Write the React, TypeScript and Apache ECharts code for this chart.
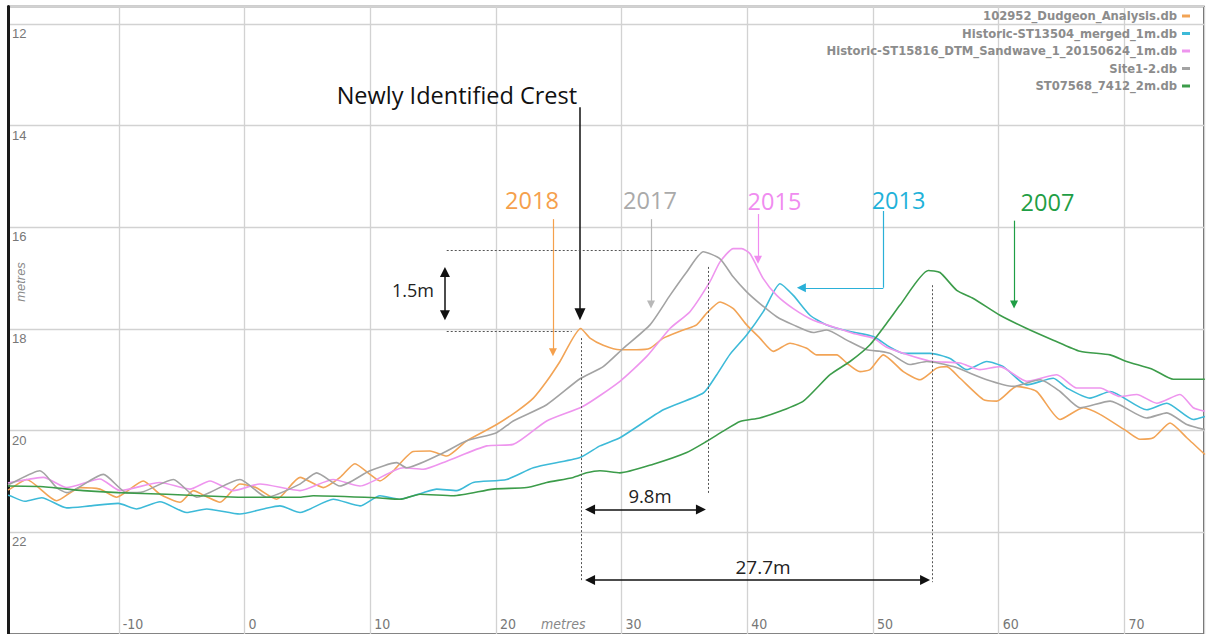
import React, { useEffect, useRef } from "react";
import * as echarts from "echarts";

const legendNames = [
  "102952_Dudgeon_Analysis.db",
  "Historic-ST13504_merged_1m.db",
  "Historic-ST15816_DTM_Sandwave_1_20150624_1m.db",
  "Site1-2.db",
  "ST07568_7412_2m.db",
];
const seriesColors = ["#f2a456", "#3dbad8", "#ee95ee", "#a3a3a3", "#3c9c4a"];

// [distance (m), depth (m)]
const survey2018: [number, number][] = [
  [-18.81, 21.17], [-18.66, 21.15], [-17.33, 20.96], [-14.94, 21.38], [-13.09, 21.12], [-11.5, 21.15],
  [-10.17, 21.31], [-8.05, 20.99], [-6.72, 21.25], [-5.13, 21.41], [-4.07, 21.18], [-3.01, 21.3],
  [-1.95, 21.41], [-0.36, 21.05], [0.9, 21.12], [2.56, 21.35], [4.42, 20.92], [6.27, 21.12],
  [7.6, 20.92], [8.79, 20.65], [9.98, 20.86], [10.78, 20.99], [11.84, 20.79], [13.43, 20.41],
  [14.76, 20.4], [16.09, 20.5], [17.68, 20.2], [20.06, 19.88], [21.66, 19.62], [22.98, 19.36],
  [24.04, 19.03], [25.1, 18.64], [26.75, 17.99], [27.49, 18.18], [28.54, 18.32], [29.87, 18.41],
  [31.2, 18.41], [32.26, 18.38], [33.32, 18.18], [34.91, 18.02], [35.97, 17.92], [36.77, 17.69],
  [37.83, 17.47], [38.89, 17.6], [39.95, 17.92], [41.0, 18.18], [42.07, 18.44], [43.4, 18.28],
  [44.73, 18.38], [45.52, 18.51], [47.11, 18.51], [47.91, 18.67], [48.97, 18.84], [49.76, 18.8],
  [50.82, 18.51], [52.41, 18.84], [53.74, 19.0], [55.07, 18.77], [55.86, 18.74], [56.92, 18.97],
  [58.78, 19.39], [59.84, 19.42], [61.43, 19.13], [63.02, 19.23], [64.88, 19.78], [66.73, 19.55],
  [68.06, 19.68], [70.18, 20.01], [71.24, 20.17], [72.3, 20.14], [73.63, 19.85], [74.96, 20.14],
  [76.4, 20.47],
];

const survey2013: [number, number][] = [
  [-18.81, 21.27], [-18.66, 21.28], [-17.46, 21.39], [-16.13, 21.32], [-14.14, 21.52], [-12.29, 21.48],
  [-10.04, 21.43], [-8.58, 21.54], [-6.72, 21.4], [-4.6, 21.61], [-3.0, 21.54], [-0.36, 21.64],
  [1.5, 21.54], [2.82, 21.48], [4.42, 21.61], [7.06, 21.35], [9.19, 21.48], [10.78, 21.28],
  [12.37, 21.35], [14.22, 21.22], [15.29, 21.15], [16.88, 21.18], [18.2, 21.02], [20.86, 20.96],
  [22.98, 20.73], [26.69, 20.53], [28.28, 20.3], [29.87, 20.14], [33.32, 19.59], [36.5, 19.26],
  [37.57, 18.9], [38.62, 18.5], [39.95, 18.12], [41.27, 17.66], [42.6, 17.11], [43.66, 17.34],
  [44.99, 17.73], [46.32, 17.92], [48.17, 18.05], [50.02, 18.15], [51.35, 18.36], [52.41, 18.48],
  [54.54, 18.48], [56.13, 18.58], [57.45, 18.8], [59.05, 18.64], [60.37, 18.74], [62.23, 19.1],
  [64.34, 18.97], [65.41, 19.16], [67.26, 19.36], [68.86, 19.23], [71.77, 19.59], [73.37, 19.46],
  [75.48, 19.78], [76.4, 19.72],
];

const survey2015: [number, number][] = [
  [-18.81, 21.03], [-18.66, 21.02], [-16.0, 20.92], [-14.14, 21.12], [-11.5, 20.95], [-9.9, 21.18],
  [-6.72, 21.02], [-4.34, 21.15], [-2.74, 20.99], [-0.89, 21.18], [1.23, 21.05], [4.42, 21.18],
  [7.06, 20.96], [9.19, 21.09], [12.63, 20.73], [14.22, 20.76], [16.09, 20.6], [19.27, 20.3],
  [21.38, 20.27], [24.04, 19.81], [26.95, 19.52], [29.87, 19.03], [32.0, 18.54], [33.85, 17.99],
  [35.44, 17.66], [37.03, 17.07], [37.83, 16.68], [38.89, 16.42], [39.55, 16.42], [40.22, 16.52],
  [41.27, 17.01], [42.34, 17.34], [43.66, 17.6], [45.25, 17.83], [46.84, 17.96], [48.43, 18.09],
  [50.02, 18.18], [51.09, 18.36], [53.2, 18.54], [54.8, 18.64], [56.92, 18.67], [58.51, 18.8],
  [60.1, 18.74], [62.23, 19.03], [64.62, 18.9], [66.2, 19.16], [68.06, 19.16], [69.65, 19.33],
  [70.98, 19.29], [72.57, 19.46], [74.42, 19.29], [75.48, 19.55], [76.4, 19.62],
];

const survey2017: [number, number][] = [
  [-18.81, 21.07], [-18.66, 21.05], [-16.27, 20.79], [-14.94, 21.12], [-14.14, 21.22], [-11.23, 20.86],
  [-9.37, 21.22], [-8.05, 21.2], [-5.66, 20.96], [-3.8, 21.31], [-0.36, 20.96], [1.77, 21.31],
  [4.42, 21.05], [5.74, 20.83], [7.6, 21.09], [9.98, 20.79], [12.11, 20.63], [12.9, 20.73],
  [15.55, 20.47], [17.68, 20.2], [20.06, 20.04], [21.38, 19.81], [24.04, 19.49], [26.69, 18.98],
  [28.54, 18.74], [30.14, 18.38], [32.26, 17.92], [33.85, 17.34], [35.18, 16.88], [36.5, 16.48],
  [37.83, 16.62], [38.89, 16.98], [39.95, 17.27], [41.0, 17.5], [42.34, 17.76], [43.66, 17.92],
  [45.25, 18.07], [46.32, 18.02], [47.91, 18.22], [49.5, 18.41], [50.56, 18.44], [51.35, 18.48],
  [52.94, 18.7], [54.27, 18.64], [56.39, 18.74], [59.05, 19.0], [61.16, 19.13], [63.29, 19.0],
  [64.88, 19.23], [66.47, 19.55], [68.86, 19.42], [71.77, 19.75], [73.37, 19.65], [74.96, 19.88],
  [76.4, 19.98],
];

const survey2007: [number, number][] = [
  [-18.81, 21.09], [-16.27, 21.1], [-12.82, 21.18], [-10.04, 21.22], [-6.19, 21.25], [-3.54, 21.28],
  [-0.1, 21.31], [4.42, 21.31], [5.47, 21.28], [10.52, 21.32], [12.37, 21.35], [13.96, 21.25],
  [16.61, 21.28], [19.79, 21.15], [22.45, 21.12], [24.04, 21.02], [26.16, 20.92], [27.22, 20.83],
  [28.28, 20.79], [29.87, 20.83], [32.52, 20.66], [35.18, 20.43], [36.77, 20.21], [38.09, 20.01],
  [39.42, 19.82], [41.0, 19.75], [42.6, 19.62], [44.46, 19.42], [46.58, 18.9], [48.17, 18.64],
  [49.76, 18.31], [51.35, 17.8], [52.15, 17.53], [54.4, 16.85], [55.33, 16.89], [56.66, 17.24],
  [57.98, 17.4], [60.1, 17.73], [62.23, 17.99], [64.34, 18.22], [66.47, 18.44], [68.86, 18.51],
  [70.18, 18.64], [72.3, 18.8], [73.89, 18.99], [76.4, 18.99],
];

const seriesData = [survey2018, survey2013, survey2015, survey2017, survey2007];

// annotation texts: [x, y, text, colour, size]
const annotationTexts: [number, number, string, string, number][] = [
  [16.9, 13.39, "Newly Identified Crest", "#111111", 23.5],
  [22.87, 15.46, "2018", "#f5a04c", 23.5],
  [32.26, 15.46, "2017", "#aaaaaa", 23.5],
  [42.16, 15.48, "2015", "#f08cf0", 23.5],
  [52.03, 15.46, "2013", "#1fb2d9", 23.5],
  [63.88, 15.5, "2007", "#1f9e45", 23.5],
  [13.4, 17.23, "1.5m", "#222222", 18],
  [32.26, 21.28, "9.8m", "#222222", 18.5],
  [41.25, 22.69, "27.7m", "#222222", 19],
];

// annotation lines: [x1, y1, x2, y2, kind]
const annotationLines: [number, number, number, number, string][] = [
  [26.69, 13.64, 26.69, 17.71, "black"],
  [24.54, 15.84, 24.54, 18.46, "orange"],
  [32.34, 15.84, 32.34, 17.52, "gray"],
  [40.85, 15.74, 40.85, 16.64, "pink"],
  [50.82, 15.68, 50.82, 17.19, "cyanPlain"],
  [50.82, 17.19, 44.3, 17.19, "cyan"],
  [61.22, 15.87, 61.22, 17.52, "green"],
  [15.95, 16.88, 15.95, 17.73, "double"],
  [27.49, 21.55, 36.31, 21.55, "double"],
  [27.49, 22.94, 54.14, 22.94, "double"],
  [16.09, 16.46, 36.1, 16.46, "dot"],
  [16.09, 18.04, 26.03, 18.04, "dot"],
  [26.8, 18.18, 26.8, 22.98, "dot"],
  [36.9, 16.78, 36.9, 21.26, "dot"],
  [54.7, 17.14, 54.7, 22.98, "dot"],
];

const lineKinds: Record<string, { color: string; width: number; start: string; end: string; size: number[]; dash?: boolean }> = {
  black: { color: "#111111", width: 1.5, start: "none", end: "triangle", size: [11, 12] },
  orange: { color: "#f5a04c", width: 1.2, start: "none", end: "triangle", size: [8, 8] },
  gray: { color: "#b8b8b8", width: 1.2, start: "none", end: "triangle", size: [8, 8] },
  pink: { color: "#f08cf0", width: 1.2, start: "none", end: "triangle", size: [8, 8] },
  cyanPlain: { color: "#2ab0d8", width: 1.2, start: "none", end: "none", size: [8, 8] },
  cyan: { color: "#2ab0d8", width: 1.2, start: "none", end: "triangle", size: [9, 9] },
  green: { color: "#1f9e45", width: 1.2, start: "none", end: "triangle", size: [8, 8] },
  double: { color: "#111111", width: 1.5, start: "triangle", end: "triangle", size: [10, 10] },
  dot: { color: "#555555", width: 1, start: "none", end: "none", size: [1, 1], dash: true },
};

export default function App() {
  const ref = useRef<HTMLDivElement>(null);
  useEffect(() => {
    if (!ref.current) return;
    const chart = echarts.init(ref.current, undefined, { renderer: "svg" });

    const markLineData = annotationLines.map(([x1, y1, x2, y2, kind]) => {
      const k = lineKinds[kind];
      return [
        {
          coord: [x1, y1],
          symbol: k.start,
          symbolSize: k.size,
          lineStyle: { color: k.color, width: k.width, type: k.dash ? [2, 2] : "solid" },
          itemStyle: { color: k.color },
        },
        { coord: [x2, y2], symbol: k.end, symbolSize: k.size, itemStyle: { color: k.color } },
      ];
    });

    const markPointData = annotationTexts.map(([x, y, text, color, size]) => ({
      coord: [x, y],
      value: text,
      symbol: "circle",
      symbolSize: 1,
      itemStyle: { color: "rgba(0,0,0,0)" },
      label: {
        show: true,
        position: "inside",
        formatter: text,
        color,
        fontSize: size,
        fontFamily: "Open Sans",
      },
    }));

    const series: any[] = legendNames.map((name, i) => ({
      name,
      type: "line",
      data: seriesData[i],
      showSymbol: false,
      symbol: "none",
      smooth: 0.2,
      silent: true,
      lineStyle: { color: seriesColors[i], width: 1.6 },
      itemStyle: { color: seriesColors[i] },
      emphasis: { disabled: true },
    }));

    series[4].markLine = {
      silent: true,
      symbol: ["none", "none"],
      label: { show: false },
      emphasis: { disabled: true },
      data: markLineData,
    };
    series[4].markPoint = {
      silent: true,
      data: markPointData,
    };

    chart.setOption({
      animation: false,
      backgroundColor: "#ffffff",
      grid: {
        left: 8,
        right: 2,
        top: 6.5,
        bottom: -3.2,
        show: true,
        borderColor: "#3a3a3a",
        borderWidth: 1.5,
        backgroundColor: "#ffffff",
      },
      legend: {
        orient: "vertical",
        right: 11,
        top: 4,
        align: "right",
        icon: "rect",
        itemWidth: 8,
        itemHeight: 3,
        itemGap: 3.5,
        selectedMode: false,
        textStyle: {
          fontFamily: "DejaVu Sans",
          fontWeight: "bold",
          fontSize: 11.6,
          color: "#8c8c8c",
          lineHeight: 14,
        },
        data: legendNames,
      },
      xAxis: {
        type: "value",
        min: -18.81,
        max: 76.33,
        splitNumber: 10,
        axisLine: { show: false },
        axisTick: { show: false },
        axisLabel: {
          inside: true,
          margin: 3,
          align: "left",
          padding: [0, 0, 0, 4],
          showMinLabel: false,
          showMaxLabel: false,
          color: "#777777",
          fontSize: 14,
          fontFamily: "Liberation Sans Narrow, DejaVu Sans Condensed, sans-serif",
        },
        splitLine: { show: true, lineStyle: { color: "#d2d2d2", width: 1.3 } },
      },
      yAxis: {
        type: "value",
        inverse: true,
        min: 11.6575,
        max: 24,
        splitNumber: 6,
        axisLine: { show: true, onZero: false, lineStyle: { color: "#1a1a1a", width: 3 } },
        axisTick: { show: false },
        axisLabel: {
          inside: true,
          margin: 4,
          verticalAlign: "top",
          padding: [3, 0, 0, 0],
          showMinLabel: false,
          showMaxLabel: false,
          color: "#777777",
          fontSize: 13,
          fontFamily: "Liberation Sans, Arial, sans-serif",
        },
        splitLine: { show: true, lineStyle: { color: "#d2d2d2", width: 1.3 } },
      },
      graphic: [
        {
          type: "text",
          left: 541,
          top: 617,
          silent: true,
          style: {
            text: "metres",
            fill: "#888888",
            font: 'italic 14px "Liberation Sans Narrow", "DejaVu Sans Condensed", sans-serif',
          },
        },
        {
          type: "text",
          x: 20,
          y: 282,
          rotation: Math.PI / 2,
          silent: true,
          style: {
            text: "metres",
            fill: "#888888",
            align: "center",
            verticalAlign: "middle",
            font: 'italic 13px "Liberation Sans", Arial, sans-serif',
          },
        },
      ],
      series,
    });

    return () => chart.dispose();
  }, []);

  return (
    <div
      ref={ref}
      style={{ position: "fixed", left: 0, top: 0, width: 1206, height: 634, background: "#fff" }}
    />
  );
}
